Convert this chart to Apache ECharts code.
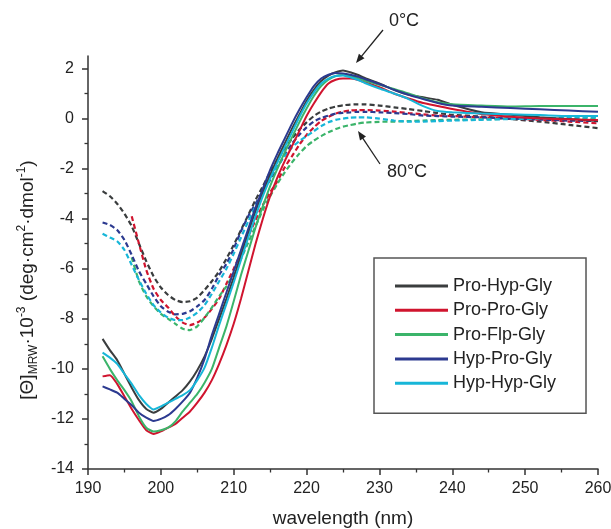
<!DOCTYPE html>
<html>
<head>
<meta charset="utf-8">
<script src="https://cdn.jsdelivr.net/npm/echarts@6/dist/echarts.min.js"></script>
<style>
html,body{margin:0;padding:0;background:#fff;}
#chart{width:611px;height:529px;}
</style>
</head>
<body>
<div id="chart"></div>
<script>
// ---------- data ----------
const wavelength = [192,193,194,195,196,197,198,199,200,201,202,203,204,205,206,207,208,209,210,211,212,213,214,215,216,217,218,219,220,221,222,223,224,225,226,227,228,230,232,234,236,238,240,244,248,252,256,260];

// 0 °C (solid)
const proHypGly0 = [-8.8,-9.25,-9.65,-10.2,-10.75,-11.25,-11.6,-11.75,-11.6,-11.35,-11.1,-10.85,-10.5,-10.05,-9.5,-8.8,-8.0,-7.2,-6.35,-5.45,-4.55,-3.7,-2.95,-2.25,-1.6,-1.0,-0.4,0.15,0.7,1.15,1.5,1.72,1.85,1.92,1.85,1.75,1.62,1.4,1.15,0.95,0.85,0.75,0.55,0.25,0.15,0.05,-0.02,-0.1];
const proProGly0 = [-10.3,-10.25,-10.6,-11.1,-11.6,-12.05,-12.45,-12.6,-12.5,-12.35,-12.2,-11.95,-11.7,-11.35,-10.95,-10.45,-9.8,-9.05,-8.2,-7.2,-6.1,-5.0,-4.0,-3.1,-2.35,-1.7,-1.1,-0.5,0.1,0.6,1.05,1.4,1.55,1.6,1.6,1.55,1.45,1.25,1.0,0.8,0.62,0.5,0.38,0.18,0.07,0.0,-0.03,-0.06];
const proFlpGly0 = [-9.5,-10.0,-10.45,-10.85,-11.3,-11.9,-12.35,-12.5,-12.45,-12.35,-12.1,-11.7,-11.35,-11.0,-10.55,-10.0,-9.15,-8.3,-7.3,-6.25,-5.3,-4.35,-3.5,-2.7,-2.0,-1.35,-0.75,-0.15,0.4,0.9,1.3,1.55,1.7,1.74,1.7,1.62,1.52,1.35,1.18,1.0,0.8,0.65,0.57,0.52,0.48,0.5,0.5,0.5];
const hypProGly0 = [-10.7,-10.82,-10.95,-11.2,-11.45,-11.75,-11.95,-12.08,-12.0,-11.85,-11.6,-11.3,-10.95,-10.35,-9.6,-8.65,-7.8,-6.95,-6.1,-5.25,-4.4,-3.55,-2.8,-2.05,-1.4,-0.8,-0.2,0.35,0.85,1.3,1.6,1.75,1.82,1.8,1.75,1.68,1.58,1.38,1.15,0.95,0.78,0.62,0.52,0.47,0.42,0.37,0.32,0.27];
const hypHypGly0 = [-9.35,-9.55,-9.8,-10.2,-10.6,-11.05,-11.4,-11.62,-11.5,-11.35,-11.2,-11.05,-10.85,-10.45,-9.95,-9.15,-8.25,-7.4,-6.55,-5.65,-4.75,-3.9,-3.1,-2.4,-1.75,-1.15,-0.55,0.05,0.6,1.05,1.4,1.6,1.7,1.72,1.65,1.55,1.42,1.2,1.0,0.78,0.5,0.3,0.25,0.2,0.17,0.14,0.1,0.1];

// 80 °C (dashed)
const proHypGly80 = [-2.9,-3.1,-3.4,-3.8,-4.3,-5.0,-5.7,-6.3,-6.75,-7.05,-7.25,-7.33,-7.3,-7.15,-6.85,-6.5,-6.1,-5.6,-5.05,-4.45,-3.85,-3.25,-2.7,-2.15,-1.65,-1.2,-0.8,-0.45,-0.15,0.1,0.28,0.4,0.48,0.53,0.56,0.57,0.57,0.52,0.45,0.38,0.3,0.22,0.15,0.08,-0.02,-0.12,-0.25,-0.38];
const proProGly80 = [null,null,null,null,-3.9,-5.0,-6.05,-6.8,-7.25,-7.55,-7.9,-8.15,-8.25,-8.15,-7.95,-7.6,-7.2,-6.6,-6.0,-5.35,-4.7,-4.05,-3.45,-2.95,-2.5,-1.95,-1.5,-1.05,-0.65,-0.35,-0.1,0.07,0.2,0.28,0.32,0.34,0.34,0.32,0.28,0.22,0.17,0.12,0.1,0.05,0.0,-0.05,-0.12,-0.19];
const proFlpGly80 = [null,null,null,null,-5.55,-6.5,-7.1,-7.5,-7.8,-8.0,-8.2,-8.4,-8.45,-8.3,-7.95,-7.55,-7.1,-6.7,-6.2,-5.6,-4.95,-4.3,-3.65,-3.1,-2.6,-2.15,-1.75,-1.4,-1.1,-0.88,-0.7,-0.55,-0.42,-0.32,-0.26,-0.2,-0.16,-0.13,-0.12,-0.1,-0.08,-0.06,-0.05,-0.03,-0.01,0.0,0.0,0.0];
const hypProGly80 = [-4.15,-4.25,-4.45,-4.85,-5.45,-6.1,-6.6,-7.1,-7.5,-7.72,-7.82,-7.8,-7.7,-7.5,-7.25,-6.8,-6.25,-5.8,-5.2,-4.5,-3.9,-3.4,-2.9,-2.45,-1.95,-1.45,-1.0,-0.65,-0.35,-0.12,0.02,0.12,0.2,0.23,0.25,0.27,0.27,0.25,0.22,0.18,0.12,0.1,0.08,0.05,0.0,-0.04,-0.08,-0.1];
const hypHypGly80 = [-4.6,-4.75,-4.9,-5.25,-5.85,-6.45,-7.0,-7.45,-7.75,-7.95,-8.05,-8.05,-7.95,-7.75,-7.45,-7.0,-6.5,-6.0,-5.4,-4.75,-4.1,-3.5,-2.95,-2.35,-1.9,-1.5,-1.15,-0.9,-0.7,-0.5,-0.3,-0.15,-0.05,0.0,0.04,0.05,0.05,0.0,-0.08,-0.12,-0.12,-0.1,-0.08,-0.05,-0.02,0.0,0.03,0.05];

const seriesNames = ['Pro-Hyp-Gly','Pro-Pro-Gly','Pro-Flp-Gly','Hyp-Pro-Gly','Hyp-Hyp-Gly'];
const xTicks = [190,200,210,220,230,240,250,260];
const yTicks = [-14,-12,-10,-8,-6,-4,-2,0,2];
const yMinorTicks = [-13,-11,-9,-7,-5,-3,-1,1];
const annotationLabels = ['0°C','80°C'];

// ---------- styling ----------
const FONT = "'Liberation Sans', Arial, sans-serif";
const TXT = '#222';
const AX = '#333';
const colors = ['#3a3d3e','#d0142e','#3bb46a','#2c3a90','#17b6d8'];

function pairs(vals){
  const out = [];
  wavelength.forEach((w,i)=>{ if (vals[i] !== null) out.push([w, vals[i]]); });
  return out;
}

const hot = [proHypGly80, proProGly80, proFlpGly80, hypProGly80, hypHypGly80];
const cold = [proHypGly0, proProGly0, proFlpGly0, hypProGly0, hypHypGly0];

const series = [];
hot.forEach((v,i)=>{
  series.push({
    name: seriesNames[i] + ' (80°C)', type:'line', data: pairs(v),
    symbol:'none', smooth:0.2, z: 2,
    lineStyle:{color: colors[i], width: 2.2, type:[5,3]},
    itemStyle:{color: colors[i]}
  });
});
cold.forEach((v,i)=>{
  series.push({
    name: seriesNames[i], type:'line', data: pairs(v),
    symbol:'none', smooth:0.2, z: 3,
    lineStyle:{color: colors[i], width: 2},
    itemStyle:{color: colors[i]}
  });
});

function arrow(x1,y1,x2,y2){
  const dx = x2-x1, dy = y2-y1, L = Math.hypot(dx,dy);
  const ux = dx/L, uy = dy/L, hl = 9, hw = 3.6;
  const bx = x2-ux*hl, by = y2-uy*hl;
  return [
    {type:'line', shape:{x1:x1,y1:y1,x2:bx+ux*2,y2:by+uy*2}, style:{stroke:'#222', lineWidth:1.3}},
    {type:'polygon', shape:{points:[[x2,y2],[bx-uy*hw,by+ux*hw],[bx+uy*hw,by-ux*hw]]}, style:{fill:'#222'}}
  ];
}

const chart = echarts.init(document.getElementById('chart'), null, {renderer:'canvas'});
chart.setOption({
  animation:false,
  backgroundColor:'#fff',
  grid:{left:88, right:13, top:56, bottom:60, containLabel:false, outerBoundsMode:'none'},
  legend:{
    data: seriesNames, orient:'vertical', left:374, top:258,
    padding:[19,30,21,21], itemWidth:53, itemHeight:3, itemGap:6.3,
    icon:'rect',
    borderColor:'#555', borderWidth:1.5, backgroundColor:'#fff',
    textStyle:{fontSize:18, lineHeight:18, color:TXT, fontFamily:FONT},
    selectedMode:false
  },
  xAxis:{
    type:'value', min:190, max:260, interval:10,
    name:'wavelength (nm)', nameLocation:'middle', nameGap:40,
    nameTextStyle:{fontSize:19, color:TXT, fontFamily:FONT},
    axisLine:{onZero:false, lineStyle:{color:AX, width:1.5}},
    axisTick:{show:true, length:6, customValues:xTicks, lineStyle:{color:AX, width:1.5}},
    minorTick:{show:true, splitNumber:2, length:3.5, lineStyle:{color:AX, width:1.3}},
    axisLabel:{customValues:xTicks, margin:12, fontSize:16, color:TXT, fontFamily:FONT},
    splitLine:{show:false}
  },
  yAxis:[{
    type:'value', min:-14, max:2.5, interval:2,
    axisLine:{show:true, lineStyle:{color:AX, width:1.5}},
    axisTick:{show:true, length:6, customValues:yTicks, lineStyle:{color:AX, width:1.5}},
    axisLabel:{customValues:yTicks, margin:14, fontSize:16, color:TXT, fontFamily:FONT},
    splitLine:{show:false}
  },{
    type:'value', min:-14, max:2.5, interval:2, position:'left', offset:0,
    axisLine:{show:false},
    axisTick:{show:true, length:3.5, customValues:yMinorTicks, lineStyle:{color:AX, width:1.3}},
    axisLabel:{show:false},
    splitLine:{show:false}
  }],
  graphic:[
    {type:'text', x:28, y:280, rotation:Math.PI/2, z:10,
     style:{
       text:'[Θ]{sub|MRW}·10{sup|-3} (deg·cm{sup|2}·dmol{sup|-1})',
       fontSize:19, fontFamily:FONT, fill:TXT, align:'center', verticalAlign:'middle', lineHeight:24,
       rich:{
         sub:{fontSize:12, fontFamily:FONT, fill:TXT, verticalAlign:'bottom', lineHeight:12},
         sup:{fontSize:12, fontFamily:FONT, fill:TXT, verticalAlign:'top', lineHeight:12}
       }
     }},
    {type:'text', x:404, y:21, z:10, style:{text:annotationLabels[0], fontSize:18, fontFamily:FONT, fill:TXT, align:'center', verticalAlign:'middle'}},
    {type:'text', x:407, y:172, z:10, style:{text:annotationLabels[1], fontSize:18, fontFamily:FONT, fill:TXT, align:'center', verticalAlign:'middle'}},
    {type:'group', z:10, children: arrow(383,30,356,63)},
    {type:'group', z:10, children: arrow(380,164,358,131)}
  ],
  series: series
});
</script>
</body>
</html>
